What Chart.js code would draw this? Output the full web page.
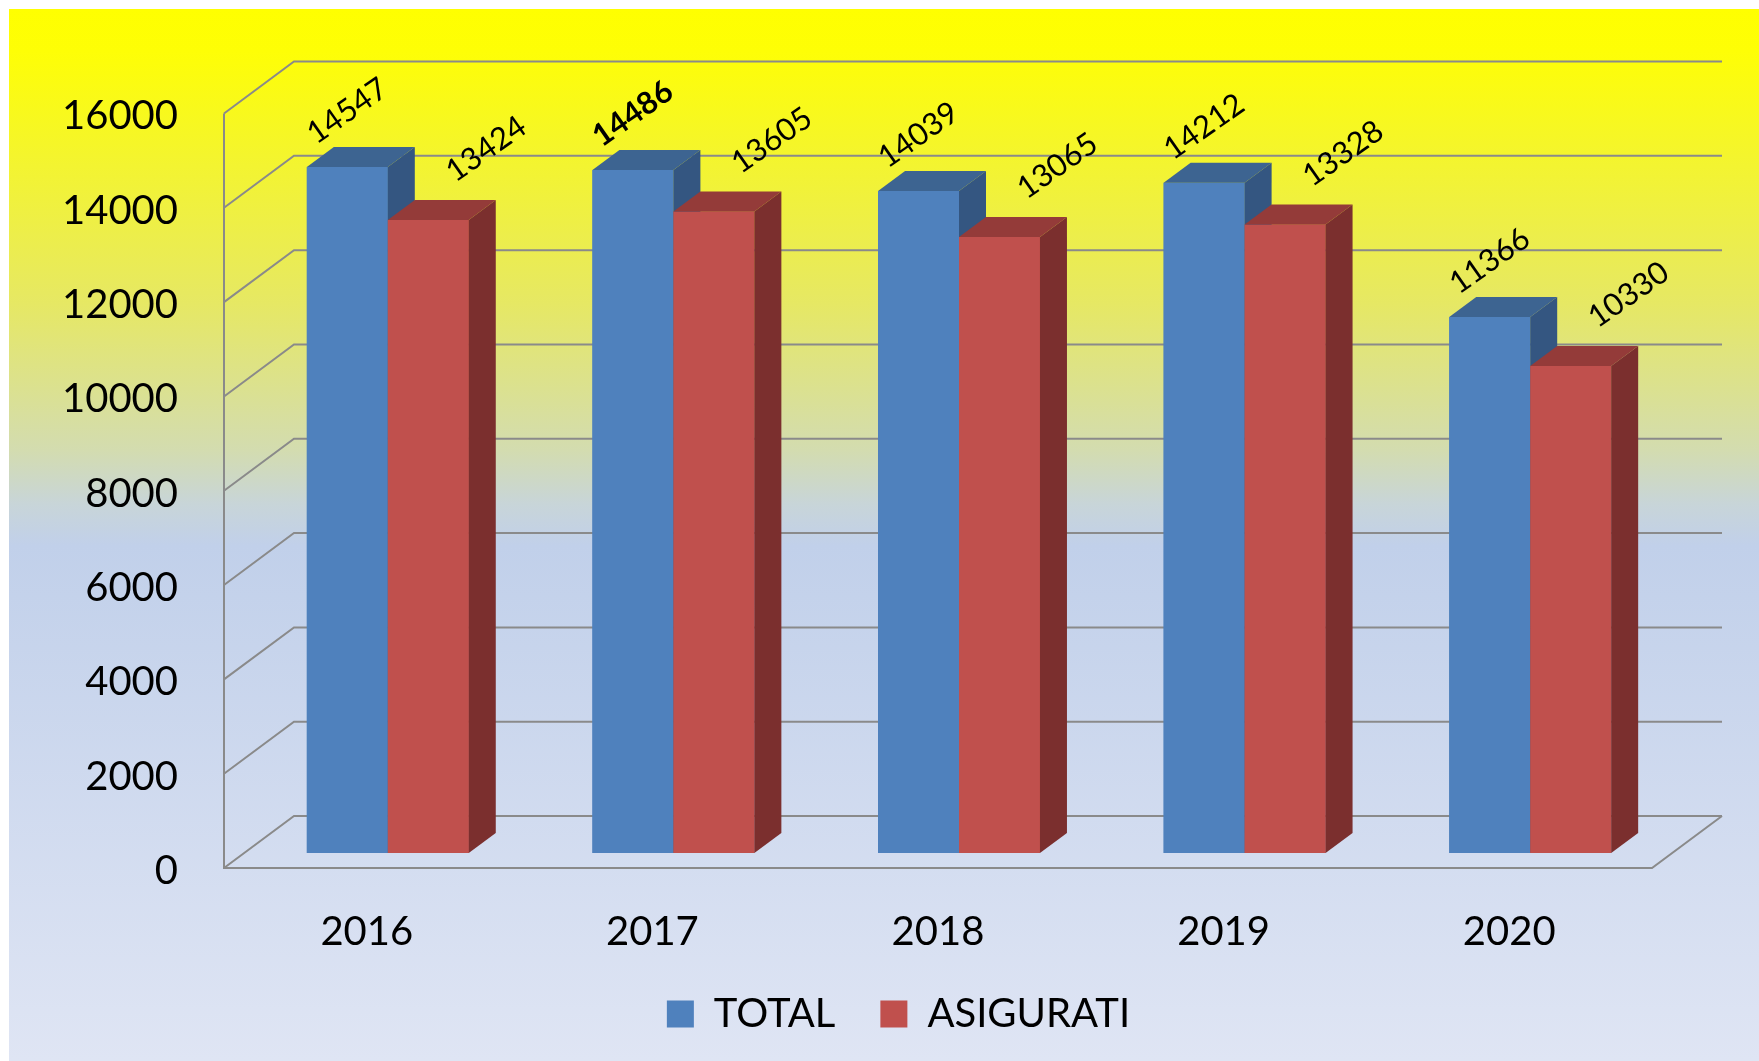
<!DOCTYPE html>
<html><head><meta charset="utf-8">
<script src="https://cdn.jsdelivr.net/npm/chart.js@4.4.1/dist/chart.umd.min.js"></script>
<style>
html,body{margin:0;padding:0;background:#fff;}
#wrap{position:absolute;left:0;top:0;width:1759px;height:1061px;}
#bg{position:absolute;left:9px;top:9px;width:1750px;height:1052px;background:linear-gradient(to bottom,#FFFF00 0%,#FEFE06 4%,#E6E864 28%,#D3DCB0 42%,#C8D5D8 47%,#C1D0EA 51%,#DFE5F4 100%);}
canvas{position:absolute;left:0;top:0;}
</style></head><body>
<div id="wrap"><div id="bg"></div><canvas id="c" width="1759" height="1061"></canvas></div>
<script>
const categories = ['2016', '2017', '2018', '2019', '2020'];
const seriesNames = ['TOTAL', 'ASIGURATI'];
const totalValues = [14547, 14486, 14039, 14212, 11366];
const asiguratiValues = [13424, 13605, 13065, 13328, 10330];
const yTickValues = [0, 2000, 4000, 6000, 8000, 10000, 12000, 14000, 16000];

const FRONT_COLORS = ['#4F81BD', '#C0504D'];
const TOP_COLORS = ['#3D6491', '#943B39'];
const SIDE_COLORS = ['#345681', '#7B2F2E'];
const GRID_COLOR = '#8A8A8A';
const FRONT = {dx: -21, dy: 15};
const BACK = {dx: 49, dy: -37};
const BAR = {dx: 27, dy: -20};
const LABEL_OFF = [{dx: 0, dy: -56}, {dx: 58, dy: -71}];
const LABEL_ANGLE = -35 * Math.PI / 180;
const LEGEND_SHIFT = 62;
const FONT = 'Lato';

const depthPlugin = {
  id: 'depth3d',
  afterLayout(chart) {
    const lg = chart.legend;
    if (lg) { lg.left += LEGEND_SHIFT; lg.right += LEGEND_SHIFT; }
  },
  beforeDatasetsDraw(chart) {
    const {ctx, chartArea: a, scales: {y}} = chart;
    ctx.save();
    ctx.strokeStyle = GRID_COLOR;
    ctx.lineWidth = 2;
    const xf = a.left + FRONT.dx, xb = a.left + BACK.dx, xbr = a.right + BACK.dx;
    y.ticks.forEach(t => {
      const py = y.getPixelForValue(t.value);
      ctx.beginPath();
      ctx.moveTo(xf, py + FRONT.dy);
      ctx.lineTo(xb, py + BACK.dy);
      ctx.lineTo(xbr, py + BACK.dy);
      ctx.stroke();
    });
    const top = y.getPixelForValue(y.max), bot = y.getPixelForValue(y.min);
    ctx.beginPath();
    ctx.moveTo(xf, top + FRONT.dy);
    ctx.lineTo(xf, bot + FRONT.dy);
    ctx.lineTo(a.right + FRONT.dx, bot + FRONT.dy);
    ctx.lineTo(xbr, bot + BACK.dy);
    ctx.stroke();
    ctx.restore();
  },
  afterDatasetsDraw(chart) {
    const ctx = chart.ctx;
    ctx.save();
    chart.data.datasets.forEach((ds, di) => {
      const meta = chart.getDatasetMeta(di);
      meta.data.forEach((el) => {
        el.draw(ctx, chart.chartArea);
        const {x, y, base, width} = el.getProps(['x', 'y', 'base', 'width'], true);
        const l = x - width / 2, r = x + width / 2;
        ctx.fillStyle = TOP_COLORS[di];
        ctx.beginPath();
        ctx.moveTo(l, y); ctx.lineTo(r, y);
        ctx.lineTo(r + BAR.dx, y + BAR.dy); ctx.lineTo(l + BAR.dx, y + BAR.dy);
        ctx.closePath(); ctx.fill();
        ctx.fillStyle = SIDE_COLORS[di];
        ctx.beginPath();
        ctx.moveTo(r, y); ctx.lineTo(r + BAR.dx, y + BAR.dy);
        ctx.lineTo(r + BAR.dx, base + BAR.dy); ctx.lineTo(r, base);
        ctx.closePath(); ctx.fill();
      });
    });
    chart.data.datasets.forEach((ds, di) => {
      const meta = chart.getDatasetMeta(di);
      meta.data.forEach((el, i) => {
        const {x, y} = el.getProps(['x', 'y'], true);
        const bold = (di === 0 && i === 1);
        ctx.save();
        ctx.translate(x + LABEL_OFF[di].dx, y + LABEL_OFF[di].dy);
        ctx.rotate(LABEL_ANGLE);
        ctx.font = (bold ? 'bold ' : '') + '31px ' + FONT;
        ctx.fillStyle = '#000';
        ctx.textAlign = 'center';
        ctx.textBaseline = 'middle';
        ctx.fillText(String(ds.data[i]), 0, 0);
        ctx.restore();
      });
    });
    ctx.restore();
  }
};

new Chart(document.getElementById('c'), {
  type: 'bar',
  data: {
    labels: categories,
    datasets: [
      {label: seriesNames[0], data: totalValues, backgroundColor: FRONT_COLORS[0], borderWidth: 0},
      {label: seriesNames[1], data: asiguratiValues, backgroundColor: FRONT_COLORS[1], borderWidth: 0}
    ]
  },
  options: {
    responsive: false,
    animation: false,
    events: [],
    categoryPercentage: 0.567,
    barPercentage: 1.0,
    layout: {padding: {left: 0, right: 86, top: 98.5, bottom: 17}},
    plugins: {
      tooltip: {enabled: false},
      legend: {
        position: 'bottom',
        labels: {
          font: {family: FONT, size: 40},
          color: '#000',
          boxWidth: 27,
          boxHeight: 27,
          padding: 45
        }
      }
    },
    scales: {
      x: {
        grid: {display: false},
        border: {display: false},
        ticks: {font: {family: FONT, size: 40}, color: '#000', labelOffset: FRONT.dx, padding: 47, maxRotation: 0},
        afterFit(s) { s.height = 96; }
      },
      y: {
        min: 0, max: 16000,
        grid: {display: false},
        border: {display: false},
        ticks: {font: {family: FONT, size: 40}, color: '#000', padding: 59, labelOffset: 18, callback: v => String(v)},
        afterBuildTicks(s) { s.ticks = yTickValues.map(v => ({value: v})); },
        afterFit(s) { s.width = 245; }
      }
    }
  },
  plugins: [depthPlugin]
});
</script>
</body></html>
